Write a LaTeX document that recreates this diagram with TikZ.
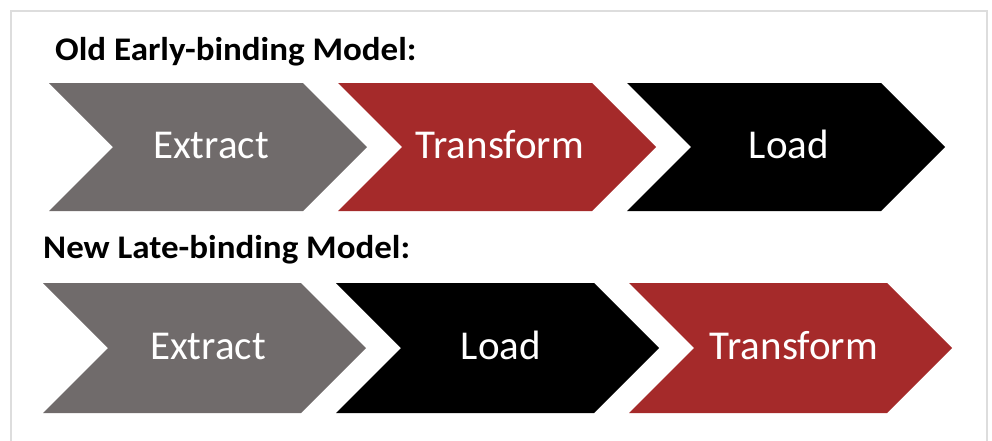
\documentclass[tikz,border=0pt]{standalone}
\usepackage{fontspec}
\setmainfont{Carlito}
\definecolor{chgray}{HTML}{706B6B}
\definecolor{chred}{HTML}{A52A2A}
\definecolor{framegray}{HTML}{DDDDDD}
\begin{document}
\begin{tikzpicture}[x=1pt,y=-1pt,
  title/.style={anchor=base west,font=\fontsize{33}{33}\selectfont\bfseries,inner sep=0pt,xscale=1.06},
  label/.style={anchor=base,text=white,font=\fontsize{41}{41}\selectfont,inner sep=0pt}]
\useasboundingbox (0,0) rectangle (992,440);
\begin{scope}
\clip (0,0) rectangle (992,440);
\draw[framegray,line width=1.5pt] (11,11) rectangle (987,460);
\end{scope}
% titles
\node[title] (t1) at (55,60) {Old Early-binding Model:};
\node[title] (t2) at (43,258) {New Late-binding Model:};
% row 1 (top 83, bottom 211, mid 147)
\fill[chgray] (49,83) -- (303,83) -- (367,147) -- (303,211) -- (49,211) -- (113,147) -- cycle;
\fill[chred] (338,83) -- (592,83) -- (656,147) -- (592,211) -- (338,211) -- (402,147) -- cycle;
\fill[black] (627,83) -- (881,83) -- (945,147) -- (881,211) -- (627,211) -- (691,147) -- cycle;
\node[label] (a1) at (211,158) {Extract};
\node[label] (a2) at (500,158) {Transform};
\node[label] (a3) at (789,158) {Load};
% row 2 (top 283, bottom 413, mid 348)
\fill[chgray] (43,283) -- (301,283) -- (366,348) -- (301,413) -- (43,413) -- (108,348) -- cycle;
\fill[black] (336,283) -- (594,283) -- (659,348) -- (594,413) -- (336,413) -- (401,348) -- cycle;
\fill[chred] (629,283) -- (887,283) -- (952,348) -- (887,413) -- (629,413) -- (694,348) -- cycle;
\node[label] (b1) at (208,359) {Extract};
\node[label] (b2) at (501,359) {Load};
\node[label] (b3) at (794,359) {Transform};
\end{tikzpicture}
\end{document}
